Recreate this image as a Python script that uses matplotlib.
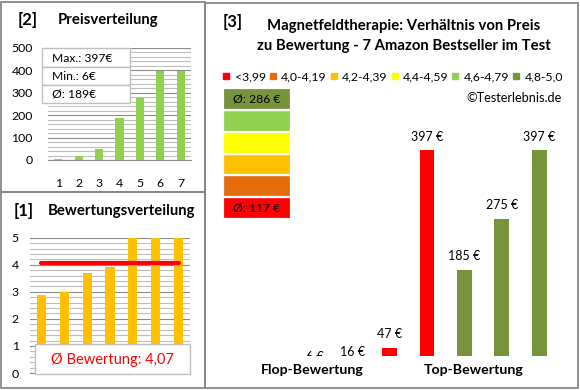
import matplotlib
matplotlib.use("Agg")
import matplotlib.pyplot as plt
from matplotlib.patches import Rectangle
from matplotlib.lines import Line2D
from matplotlib.ticker import MultipleLocator

# ---------------- data ----------------
products = ["1", "2", "3", "4", "5", "6", "7"]
# products in order of rating (flop -> top), as in panel [3]
prices = [6, 16, 47, 397, 185, 275, 397]
ratings = [2.9, 3.0, 3.7, 3.9, 5.0, 5.0, 5.0]

rating_bins = [0, 4.0, 4.2, 4.4, 4.6, 4.8, 5.01]
bin_labels = ["<3,99", "4,0-4,19", "4,2-4,39", "4,4-4,59", "4,6-4,79", "4,8-5,0"]
bin_colors = ["#FF0000", "#E46C0A", "#FFC000", "#FFFF00", "#92D050", "#77933C"]

group_labels = ["Flop-Bewertung", "Top-Bewertung"]
copyright_text = "\u00a9Testerlebnis.de"

# ---------------- setup ----------------
FONT = ["Lato", "DejaVu Sans"]
plt.rcParams["font.family"] = FONT
W, H = 580, 390
fig = plt.figure(figsize=(W / 100, H / 100), dpi=100)
fig.patch.set_facecolor("white")

TITLE = 10.7
TICK = 8.8


def fax(x0, y0, x1, y1):
    return fig.add_axes([x0 / W, 1 - y1 / H, (x1 - x0) / W, (y1 - y0) / H])


def ftext(x, y, s, **kw):
    fig.text(x / W, 1 - y / H, s, **kw)


def frame(x0, y0, x1, y1, ec="#888888", lw=1.3, fc="none", z=5):
    fig.add_artist(Rectangle((x0 / W, 1 - y1 / H), (x1 - x0) / W, (y1 - y0) / H,
                             transform=fig.transFigure, fill=(fc != "none"),
                             fc=fc if fc != "none" else "white", ec=ec, lw=lw, zorder=z))


def color_for(r):
    for i in range(len(bin_colors)):
        if rating_bins[i] <= r < rating_bins[i + 1]:
            return bin_colors[i]
    return bin_colors[-1]


def rnd(v):
    return int(v + 0.5)


def fmt_de(v, nd=2):
    return f"{v:.{nd}f}".replace(".", ",")


def style_grid(ax, major, minor):
    ax.yaxis.set_major_locator(MultipleLocator(major))
    ax.yaxis.set_minor_locator(MultipleLocator(minor))
    ax.grid(which="major", axis="y", color="#8C8C8C", lw=0.8)
    ax.grid(which="minor", axis="y", color="#BFBFBF", lw=0.8)
    ax.set_axisbelow(True)
    for s in ["left", "right", "top"]:
        ax.spines[s].set_visible(False)
    ax.spines["bottom"].set_color("#8C8C8C")
    ax.tick_params(which="both", length=0)
    ax.tick_params(axis="y", which="minor", left=False)


# ---------------- panel [2] Preisverteilung ----------------
sorted_prices = sorted(prices)
ax2 = fax(48, 47.7, 191, 160)
ax2.bar(range(len(products)), sorted_prices, width=0.4, color="#92D050", zorder=3)
ax2.set_xlim(-0.5, len(products) - 0.5)
ax2.set_ylim(0, 500)
style_grid(ax2, 100, 20)
ax2.set_xticks(range(len(products)))
ax2.set_xticklabels(products)
ax2.tick_params(axis="x", pad=13, labelsize=TICK)
ax2.tick_params(axis="y", pad=11, labelsize=TICK)

ftext(27.5, 20, "[2]", fontsize=12, fontweight="bold", ha="center", va="center")
ftext(108.5, 20, "Preisverteilung", fontsize=TITLE, fontweight="bold", ha="center", va="center")

# stats box
stats = [f"Max.: {max(prices)}\u20ac", f"Min.: {min(prices)}\u20ac",
         f"\u00d8: {rnd(sum(prices) / len(prices))}\u20ac"]
rows = [(48, 67), (67, 85), (85, 103)]
for (y0, y1), s in zip(rows, stats):
    frame(42, y0, 130, y1, ec="#BFBFBF", lw=1.0, fc="white", z=6)
    ftext(52, (y0 + y1) / 2 + 0.5, s, fontsize=8.7, ha="left", va="center", zorder=7)

# ---------------- panel [1] Bewertungsverteilung ----------------
sorted_ratings = sorted(ratings)
ax1 = fax(30, 237.7, 190, 373)
ax1.bar(range(len(products)), sorted_ratings, width=0.4, color="#FFC000", zorder=3)
avg_rating = sum(ratings) / len(ratings)
ax1.plot([0, len(products) - 1], [avg_rating, avg_rating], color="#FF0000", lw=3,
         solid_capstyle="round", zorder=4)
ax1.set_xlim(-0.5, len(products) - 0.5)
ax1.set_ylim(0, 5)
style_grid(ax1, 1, 0.2)
ax1.set_xticks([])
ax1.tick_params(axis="y", pad=8, labelsize=TICK)

ftext(24, 211, "[1]", fontsize=12, fontweight="bold", ha="center", va="center")
ftext(121.5, 211, "Bewertungsverteilung", fontsize=TITLE, fontweight="bold", ha="center", va="center")

frame(35, 344, 190, 374, ec="#BFBFBF", lw=1.0, fc="white", z=6)
ftext(112, 360, f"\u00d8 Bewertung: {fmt_de(avg_rating)}", fontsize=10.5, color="#FF0000",
      ha="center", va="center", zorder=7)

# ---------------- panel [3] ----------------
ftext(233, 22, "[3]", fontsize=12, fontweight="bold", ha="center", va="center")
ftext(404, 26, "Magnetfeldtherapie: Verh\u00e4ltnis von Preis", fontsize=TITLE,
      fontweight="bold", ha="center", va="center")
ftext(404, 46, "zu Bewertung - 7 Amazon Bestseller im Test", fontsize=TITLE,
      fontweight="bold", ha="center", va="center")

handles = [Line2D([], [], ls="none", marker="s", markersize=4.5, markerfacecolor=c,
                  markeredgecolor=c) for c in bin_colors]
fig.legend(handles, bin_labels, loc="center", bbox_to_anchor=(393 / W, 1 - 77 / H),
           ncol=6, frameon=False, fontsize=8.8, handlelength=0.55, handletextpad=0.4,
           columnspacing=0.3, borderpad=0, borderaxespad=0)
ftext(562, 98, copyright_text, fontsize=9.2, ha="right", va="center")

# average stack
flop = [p for p, r in zip(prices, ratings) if r < 4.0]
top = [p for p, r in zip(prices, ratings) if r >= 4.8]
axs = fax(223, 88, 291, 219)
axs.barh(range(len(bin_colors)), [1] * len(bin_colors), height=1.0, left=0,
         color=bin_colors, edgecolor="white", lw=1.6)
axs.set_xlim(0, 1)
axs.set_ylim(-0.5, len(bin_colors) - 0.5)
axs.axis("off")
axs.text(0.5, len(bin_colors) - 1, f"\u00d8: {rnd(sum(top) / len(top))} \u20ac",
         ha="center", va="center", fontsize=8.7)
axs.text(0.5, 0, f"\u00d8: {rnd(sum(flop) / len(flop))} \u20ac",
         ha="center", va="center", fontsize=8.7)

# main bar chart
ax3 = fax(296, 100, 558, 356)
ax3.bar(range(len(prices)), prices, width=0.4, color=[color_for(r) for r in ratings])
ax3.set_xlim(-0.5, len(prices) - 0.5)
ax3.set_ylim(32, 485)
ax3.axis("off")
for i, p in enumerate(prices):
    ax3.annotate(f"{p} \u20ac", xy=(i, p), xytext=(0, 9.5), textcoords="offset points",
                 ha="center", va="center", fontsize=9, annotation_clip=False,
                 clip_on=True)

ftext(312, 370, group_labels[0], fontsize=10.2, fontweight="bold", ha="center", va="center")
ftext(474, 370, group_labels[1], fontsize=10.2, fontweight="bold", ha="center", va="center")

# panel frames
frame(1, 2, 205, 192)
frame(1, 192, 205, 388)
frame(205, 3, 578, 388)

fig.savefig("out.png", dpi=100, facecolor="white")
